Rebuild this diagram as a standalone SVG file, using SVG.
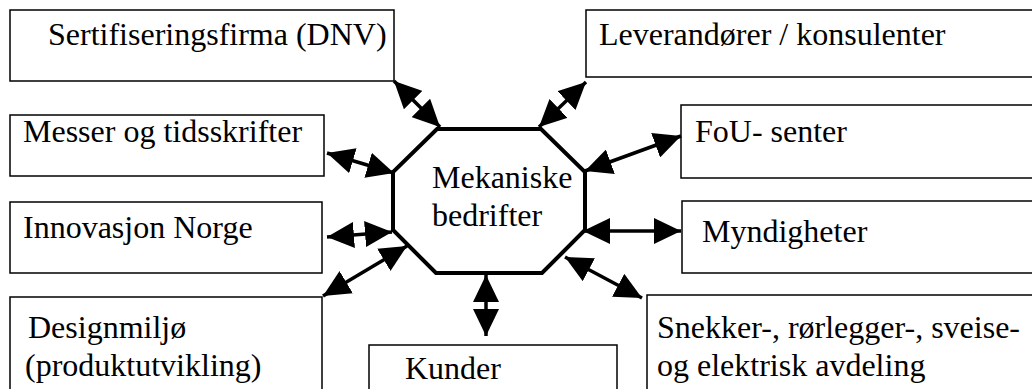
<svg xmlns="http://www.w3.org/2000/svg" width="1032" height="389" viewBox="0 0 1032 389">
  <style>
    .box { fill: #fff; stroke: #000; stroke-width: 1.5; }
    .hub { fill: #fff; stroke: #000; stroke-width: 4; stroke-linejoin: miter; }
    .lbl { font-family: 'Liberation Serif', 'Times New Roman', serif; font-size: 32px; fill: #000; }
    .link { stroke: #000; stroke-width: 3.5; fill: none; marker-start: url(#ah); marker-end: url(#ah); }
  </style>
  <defs>
    <marker id="ah" markerUnits="userSpaceOnUse" markerWidth="27" markerHeight="26" viewBox="0 0 27 26" refX="27" refY="13" orient="auto-start-reverse">
      <path d="M0,0 L27,13 L0,26 Z" fill="#000"/>
    </marker>
  </defs>

  <rect width="1032" height="389" fill="#fff"/>

  <!-- left column -->
  <g id="sertifisering">
    <rect class="box" x="10" y="10" width="384" height="71"/>
    <text class="lbl" x="48" y="45">Sertifiseringsfirma (DNV)</text>
  </g>
  <g id="messer">
    <rect class="box" x="10" y="115" width="314" height="61"/>
    <text class="lbl" x="23" y="142">Messer og tidsskrifter</text>
  </g>
  <g id="innovasjon">
    <rect class="box" x="10" y="202" width="312" height="71"/>
    <text class="lbl" x="23" y="238">Innovasjon Norge</text>
  </g>
  <g id="designmiljo">
    <rect class="box" x="10" y="297" width="312" height="100"/>
    <text class="lbl" x="28" y="338">Designmiljø</text>
    <text class="lbl" x="25" y="376">(produktutvikling)</text>
  </g>

  <!-- bottom -->
  <g id="kunder">
    <rect class="box" x="369" y="345" width="248" height="60"/>
    <text class="lbl" x="405" y="379">Kunder</text>
  </g>

  <!-- right column -->
  <g id="leverandorer">
    <rect class="box" x="586" y="10" width="460" height="67"/>
    <text class="lbl" x="599" y="45">Leverandører / konsulenter</text>
  </g>
  <g id="fou">
    <rect class="box" x="681" y="105" width="360" height="73"/>
    <text class="lbl" x="695" y="142">FoU- senter</text>
  </g>
  <g id="myndigheter">
    <rect class="box" x="682" y="201" width="360" height="72"/>
    <text class="lbl" x="702" y="242">Myndigheter</text>
  </g>
  <g id="avdelinger">
    <rect class="box" x="647" y="295" width="400" height="110"/>
    <text class="lbl" x="657" y="338">Snekker-, rørlegger-, sveise-</text>
    <text class="lbl" x="657" y="376">og elektrisk avdeling</text>
  </g>

  <!-- central octagon -->
  <g id="mekaniske">
    <polygon class="hub" points="437,129 541,129 585,172 585,230 542,273 436,273 393,230 393,172"/>
    <text class="lbl" x="432" y="188">Mekaniske</text>
    <text class="lbl" x="432" y="226">bedrifter</text>
  </g>

  <!-- two-way links -->
  <g id="connectors">
    <line class="link" x1="394" y1="81" x2="440" y2="127"/>
    <line class="link" x1="586" y1="82" x2="539" y2="127"/>
    <line class="link" x1="681" y1="136" x2="585" y2="171"/>
    <line class="link" x1="681" y1="231" x2="583" y2="231"/>
    <line class="link" x1="642" y1="298" x2="565" y2="257"/>
    <line class="link" x1="486" y1="275" x2="486" y2="336"/>
    <line class="link" x1="323" y1="296" x2="407" y2="246"/>
    <line class="link" x1="327" y1="237" x2="392" y2="232"/>
    <line class="link" x1="327" y1="153" x2="394" y2="173"/>
  </g>
</svg>
